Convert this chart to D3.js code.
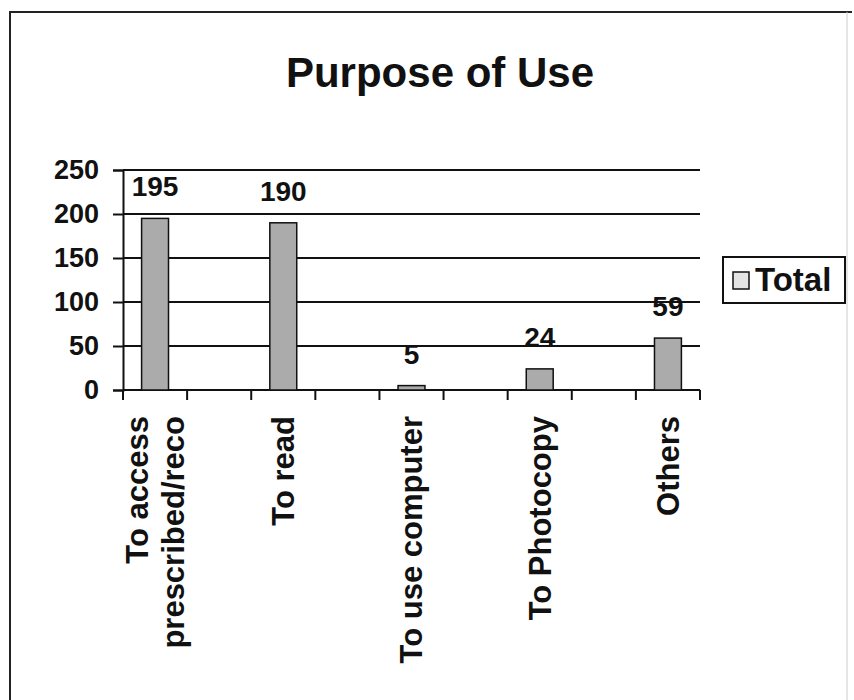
<!DOCTYPE html>
<html>
<head>
<meta charset="utf-8">
<script src="https://cdn.jsdelivr.net/npm/d3@7"></script>
<style>
  body { margin: 0; background: #fff; }
  svg text { font-family: "Liberation Sans", Arial, sans-serif; font-weight: bold; fill: #111; }
</style>
</head>
<body>
<div id="chart"></div>
<script>
// categories (every other slot is blank in the original sheet)
var categories = ["To access\nprescribed/reco", "", "To read", "", "To use computer", "", "To Photocopy", "", "Others"];
var totals     = [195, null, 190, null, 5, null, 24, null, 59];
var yTicks     = [0, 50, 100, 150, 200, 250];
var seriesName = "Total";
var chartTitle = "Purpose of Use";

var width = 854, height = 700;
var plot = {left: 123, right: 700, top: 170, bottom: 390};

var svg = d3.select("#chart").append("svg")
  .attr("width", width)
  .attr("height", height);

// frame round the chart
svg.append("path")
  .attr("d", "M10,700 L10,12 L852,12")
  .attr("fill", "none")
  .attr("stroke", "#222")
  .attr("stroke-width", 2);
svg.append("line")
  .attr("x1", 847).attr("x2", 847).attr("y1", 12).attr("y2", 700)
  .attr("stroke", "#ccc").attr("stroke-width", 1);

// title
svg.append("text")
  .attr("x", 440)
  .attr("y", 87)
  .attr("text-anchor", "middle")
  .style("font-size", "42px")
  .text(chartTitle);

var x = d3.scaleBand()
  .domain(d3.range(categories.length))
  .range([plot.left, plot.right])
  .padding(0);

var y = d3.scaleLinear()
  .domain([0, 250])
  .range([plot.bottom, plot.top]);

// gridlines
svg.append("g")
  .selectAll("line")
  .data(yTicks.filter(function(d){ return d > 0; }))
  .enter()
  .append("line")
  .attr("x1", plot.left)
  .attr("x2", plot.right)
  .attr("y1", function(d){ return y(d); })
  .attr("y2", function(d){ return y(d); })
  .attr("stroke", "#111")
  .attr("stroke-width", 2);

// y axis
var yAxis = svg.append("g")
  .attr("transform", "translate(" + plot.left + ",0)")
  .call(d3.axisLeft(y).tickValues(yTicks).tickSize(10).tickPadding(14));
yAxis.selectAll("path, line").attr("stroke", "#111").attr("stroke-width", 2);
yAxis.selectAll("text")
  .style("font-size", "27px")
  .style("font-family", "'Liberation Sans', Arial, sans-serif")
  .attr("fill", "#111");

// x axis line and ticks on the band edges
var edges = d3.range(categories.length).map(function(i){ return x(i); }).concat([plot.right]);
svg.append("line")
  .attr("x1", plot.left).attr("x2", plot.right)
  .attr("y1", plot.bottom).attr("y2", plot.bottom)
  .attr("stroke", "#111").attr("stroke-width", 2);
svg.append("g")
  .selectAll("line")
  .data(edges)
  .enter()
  .append("line")
  .attr("x1", function(d){ return d; })
  .attr("x2", function(d){ return d; })
  .attr("y1", plot.bottom)
  .attr("y2", plot.bottom + 10)
  .attr("stroke", "#111")
  .attr("stroke-width", 2);

// bars
var barW = x.bandwidth() * 0.42;
var bars = categories.map(function(c, i){ return {i: i, v: totals[i]}; })
  .filter(function(d){ return d.v != null; });

svg.append("g")
  .selectAll("rect")
  .data(bars)
  .enter()
  .append("rect")
  .attr("x", function(d){ return x(d.i) + (x.bandwidth() - barW) / 2; })
  .attr("y", function(d){ return y(d.v); })
  .attr("width", barW)
  .attr("height", function(d){ return y(0) - y(d.v); })
  .attr("fill", "#ababab")
  .attr("stroke", "#111")
  .attr("stroke-width", 1.5);

// data labels
svg.append("g")
  .selectAll("text")
  .data(bars)
  .enter()
  .append("text")
  .attr("x", function(d){ return x(d.i) + x.bandwidth() / 2; })
  .attr("y", function(d){ return y(d.v) - 22; })
  .attr("text-anchor", "middle")
  .style("font-size", "28px")
  .text(function(d){ return d.v; });

// category labels, rotated
var lineH = 36;
categories.forEach(function(c, i){
  if (!c) return;
  var lines = c.split("\n");
  var cx = x(i) + x.bandwidth() / 2;
  var g = svg.append("g")
    .attr("transform", "translate(" + cx + "," + (plot.bottom + 26) + ") rotate(-90)");
  lines.forEach(function(t, j){
    g.append("text")
      .attr("x", 0)
      .attr("y", (j - (lines.length - 1) / 2) * lineH)
      .attr("dy", "0.35em")
      .attr("text-anchor", "end")
      .style("font-size", "31px")
      .text(t);
  });
});

// legend
var legend = svg.append("g").attr("transform", "translate(723,257)");
legend.append("rect")
  .attr("width", 122).attr("height", 46)
  .attr("fill", "#fff")
  .attr("stroke", "#111").attr("stroke-width", 2);
legend.append("rect")
  .attr("x", 10).attr("y", 15)
  .attr("width", 16).attr("height", 17)
  .attr("fill", "#e4e4e4")
  .attr("stroke", "#111").attr("stroke-width", 1.5);
legend.append("text")
  .attr("x", 32).attr("y", 34)
  .style("font-size", "33px")
  .text(seriesName);
</script>
</body>
</html>
